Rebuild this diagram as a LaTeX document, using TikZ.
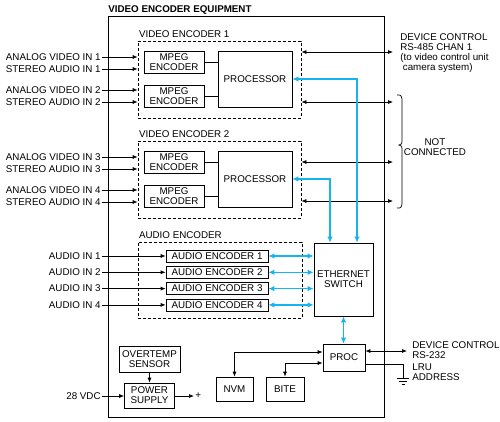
\documentclass[tikz,border=0pt]{standalone}
\usepackage{fontspec}
\setmainfont{Liberation Sans}
\usetikzlibrary{arrows.meta}
\definecolor{eth}{RGB}{20,180,240}
\newcommand\diagfont{\fontsize{9.8}{10}\selectfont}

\begin{document}
\begin{tikzpicture}[x=1pt,y=-1pt,line width=0.7pt,font=\diagfont,
    box/.style={draw,inner sep=0pt,align=center},
    grp/.style={draw,dash pattern=on 3pt off 2pt,inner sep=0pt},
    lbl/.style={inner sep=1pt},
    arr/.style={-{Latex[length=5pt,width=4pt]}},
    biarr/.style={{Latex[length=5pt,width=4pt]}-{Latex[length=5pt,width=4pt]}},
    cy/.style={draw=eth,line width=1.5pt,{Latex[length=6pt,width=5.5pt]}-{Latex[length=6pt,width=5.5pt]}}]
  \useasboundingbox (0,0) rectangle (500,421);
  \node[box,minimum width=276pt,minimum height=401pt] (equip) at (246,216.5) {};
  \node[anchor=base west,inner sep=0pt,font=\diagfont\bfseries] (title) at (108,12.5) {VIDEO ENCODER EQUIPMENT};
  % video encoders
  \foreach \k/\oy/\ra/\rb in {1/0/52/102,2/100/162/201}
  {
    \pgfmathtruncatemacro\ca{2*\k-1}
    \pgfmathtruncatemacro\cb{2*\k}
    \node[grp,minimum width=163pt,minimum height=77pt] (enc\k) at (219.5,79.5+\oy) {};
    \node[lbl,anchor=base west] at ([yshift=3.5pt]enc\k.north west) {VIDEO ENCODER \k};
    \node[box,minimum width=60pt,minimum height=22pt] (mpa\k) at (174,62+\oy) {MPEG\\ENCODER};
    \node[box,minimum width=60pt,minimum height=22pt] (mpb\k) at (174,96+\oy) {MPEG\\ENCODER};
    \node[box,minimum width=74pt,minimum height=56pt] (proc\k) at (255,79+\oy) {PROCESSOR};
    \draw (mpa\k) -- (mpa\k -| proc\k.west);
    \draw (mpb\k) -- (mpb\k -| proc\k.west);
    \foreach \y/\t [count=\i] in {57/ANALOG VIDEO IN \ca,69/STEREO AUDIO IN \ca,90/ANALOG VIDEO IN \cb,102/STEREO AUDIO IN \cb}
    {
      \node[lbl,anchor=east] (vin\k\i) at (102,\y+\oy) {\t};
      \draw[arr] (vin\k\i.east) -- (vin\k\i.east -| enc\k.west);
    }
    \coordinate (ra\k) at (393,\ra);
    \coordinate (rb\k) at (393,\rb);
    \draw[biarr] (ra\k -| enc\k.east) -- (ra\k);
    \draw[biarr] (rb\k -| enc\k.east) -- (rb\k);
  }
  \node[lbl,anchor=north west,align=left] (rs485) at (399,32) {DEVICE CONTROL\\RS-485 CHAN 1\\(to video control unit\\\hspace*{2.5pt}camera system)};
  \draw (397,95) .. controls (401,95) .. (402,99) -- (402,141) .. controls (402,144) .. (399,145)
    .. controls (402,146) .. (402,149) -- (402,204) .. controls (401,208) .. (397,208);
  \node[lbl,align=center] (nc) at (435,147) {NOT\\CONNECTED};
  % audio encoder
  \node[grp,minimum width=164pt,minimum height=76pt] (aenc) at (220,280) {};
  \node[lbl,anchor=base west] at ([yshift=3.5pt]aenc.north west) {AUDIO ENCODER};
  \node[box,minimum width=59pt,minimum height=73pt] (sw) at (343.5,279.5) {ETHERNET\\SWITCH};
  \foreach \i in {1,...,4}
  {
    \pgfmathsetmacro\ya{256+16.3*(\i-1)}
    \node[box,minimum width=102pt,minimum height=12pt] (ae\i) at (217,\ya) {AUDIO ENCODER \i};
    \node[lbl,anchor=east] (ain\i) at (102,\ya) {AUDIO IN \i};
    \draw[arr] (ain\i) -- (ae\i);
    \draw[cy] (ae\i) -- (ae\i -| sw.west);
  }
  \foreach \k/\dx in {1/13.5,2/-13.5}
    \draw[cy] (proc\k.east) -| ([xshift=\dx pt]sw.north);
  % proc
  \node[box,minimum width=42pt,minimum height=27pt] (pr) at (344,357.5) {PROC};
  \draw[cy] (sw.south) -- (sw.south |- pr.north);
  \node[box,minimum width=37pt,minimum height=24pt] (nvm) at (234.5,389) {NVM};
  \node[box,minimum width=38pt,minimum height=24pt] (bite) at (285,389) {BITE};
  \draw[biarr] (nvm.north) |- ([yshift=5.5pt]pr.west);
  \draw[biarr] (bite.north) |- ([yshift=-5.5pt]pr.west);
  \coordinate (rs232) at (407,351);
  \draw[biarr] (pr.east |- rs232) -- (rs232);
  \node[lbl,anchor=west,align=left] (rs232t) at (411,350) {DEVICE CONTROL\\RS-232};
  \coordinate (gnd) at (403,378);
  \draw ([yshift=-6.5pt]pr.east) -| (gnd);
  \draw ([xshift=-6pt]gnd) -- ([xshift=6pt]gnd)
    ([shift={(-4,3)}]gnd) -- ([shift={(4,3)}]gnd)
    ([shift={(-1.5,6)}]gnd) -- ([shift={(1.5,6)}]gnd);
  \node[lbl,anchor=west,align=left] (lru) at (411,372) {LRU\\ADDRESS};
  % power
  \node[box,minimum width=61pt,minimum height=26pt] (ot) at (149.5,359) {OVERTEMP\\SENSOR};
  \node[box,minimum width=50pt,minimum height=25pt] (ps) at (149.5,395.5) {POWER\\SUPPLY};
  \draw[arr] (ot) -- (ps);
  \node[lbl,anchor=east] (vdc) at (102,396) {28 VDC};
  \draw[arr] (vdc.east) -- (vdc.east -| ps.west);
  \coordinate (pout) at (194,396);
  \draw[arr] (ps.east |- pout) -- (pout);
  \node[lbl,anchor=west] (plus) at (pout) {+};
\end{tikzpicture}
\end{document}
